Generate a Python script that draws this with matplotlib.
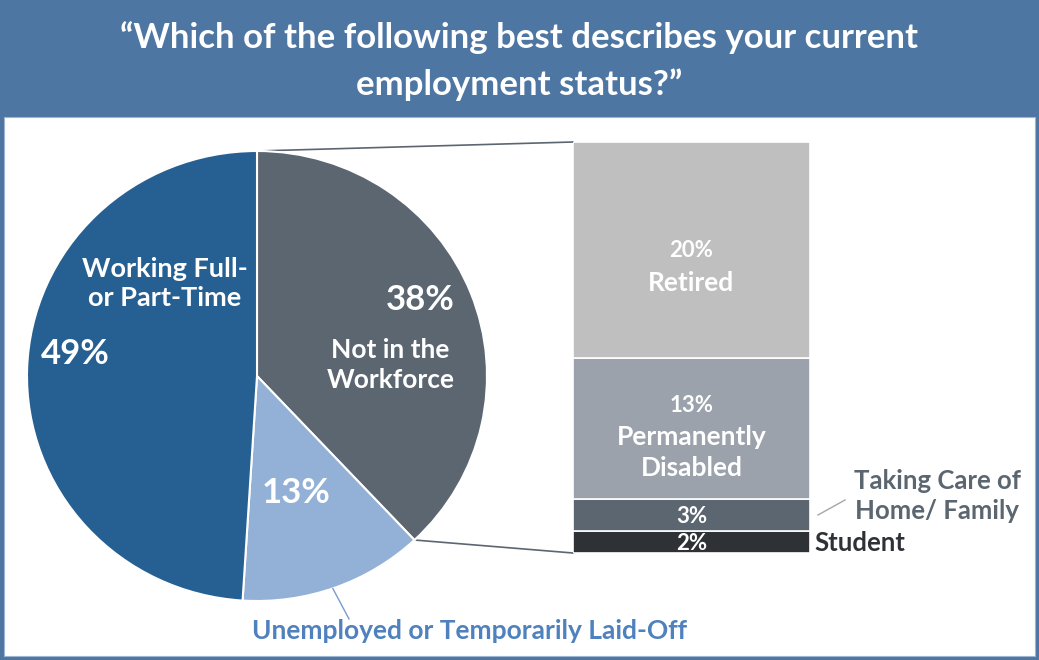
import matplotlib
matplotlib.use("Agg")
import matplotlib.pyplot as plt
from matplotlib.patches import Rectangle, ConnectionPatch
import numpy as np

# Pie: overall employment status
pie_labels = ["Not in the\nWorkforce", "Unemployed or Temporarily Laid-Off", "Working Full-\nor Part-Time"]
pie_values = [38, 13, 49]
pie_colors = ["#5C6670", "#93B1D7", "#265F91"]

# Breakdown of "Not in the Workforce" (bottom to top)
bar_labels = ["Student", "Taking Care of\nHome/ Family", "Permanently\nDisabled", "Retired"]
bar_values = [2, 3, 13, 20]
bar_colors = ["#2E3236", "#5C6670", "#9BA2AB", "#BFBFBF"]

title = "\u201cWhich of the following best describes your current\nemployment status?\u201d"

W, H = 1039, 660
fig = plt.figure(figsize=(W / 100, H / 100), dpi=100)
plt.rcParams["font.family"] = ["Lato", "DejaVu Sans"]


def fx(x):
    return x / W


def fy(y):
    return 1 - y / H


# Frame and title band
fig.patches.append(Rectangle((0, 0), 1, 1, transform=fig.transFigure,
                             facecolor="#4E76A3", edgecolor="none", zorder=0))
fig.patches.append(Rectangle((fx(4), fy(656)), fx(1031), (656 - 117) / H,
                             transform=fig.transFigure, facecolor="white",
                             edgecolor="#9FB4CF", linewidth=0.8, zorder=0))
fig.text(0.5, fy(61), title, ha="center", va="center", color="white",
         fontsize=25, fontweight="bold", linespacing=1.55)

# Pie chart
cx, cy, rx, ry = 257, 376, 230, 225
ax_pie = fig.add_axes([fx(cx - rx), fy(cy + ry), 2 * rx / W, 2 * ry / H], zorder=3)
wedges, _ = ax_pie.pie(pie_values, colors=pie_colors, startangle=90,
                       counterclock=False,
                       wedgeprops=dict(edgecolor="white", linewidth=1.5))
ax_pie.set_aspect("auto")
ax_pie.set_xlim(-1, 1)
ax_pie.set_ylim(-1, 1)
ax_pie.axis("off")

tb = dict(color="white", fontweight="bold", ha="center", va="center")
ax_pie.text(0.71, 0.34, f"{pie_values[0]}%", fontsize=25, **tb)
ax_pie.text(0.58, 0.05, pie_labels[0], fontsize=19, linespacing=1.3, **tb)
ax_pie.text(0.17, -0.52, f"{pie_values[1]}%", fontsize=25, **tb)
ax_pie.text(-0.40, 0.41, pie_labels[2], fontsize=19.5, linespacing=1.25, **tb)
ax_pie.text(-0.79, 0.10, f"{pie_values[2]}%", fontsize=25, **tb)

# Leader line and label for the unemployed slice
ax_pie.plot([0.33, 0.40], [-0.945, -1.08], color="#7A9CC8", lw=1, clip_on=False)
fig.text(fx(470), fy(631), pie_labels[1], color="#4F81BD", fontsize=19,
         fontweight="bold", ha="center", va="center")

# Stacked bar for the breakdown
total = sum(bar_values)
ax_bar = fig.add_axes([fx(573), fy(553), 237 / W, 411 / H], zorder=3)
bottoms = np.concatenate([[0], np.cumsum(bar_values)[:-1]])
ax_bar.bar([0] * len(bar_values), bar_values, bottom=bottoms, width=1,
           color=bar_colors, edgecolor="white", linewidth=1.2)
ax_bar.set_xlim(-0.5, 0.5)
ax_bar.set_ylim(0, total)
ax_bar.axis("off")

for v, b, lab in zip(bar_values, bottoms, bar_labels):
    mid = b + v / 2
    if v >= 10:
        # percentage on top, category name underneath
        n = lab.count("\n") + 1
        pct_y = mid + (n - 1) * 2.1
        ax_bar.text(0, pct_y, f"{v}%", fontsize=16, **tb)
        ax_bar.text(0, pct_y - 3.0 - (n - 1) * 1.35, lab, fontsize=19,
                    linespacing=1.35, **tb)
    else:
        ax_bar.text(0, mid - 0.12, f"{v}%", fontsize=16, **tb)

# Side labels for the thin segments
ax_bar.text(0.52, bottoms[0] + bar_values[0] / 2 - 0.1, bar_labels[0],
            color="#2E3236", fontsize=18.5, fontweight="bold", ha="left",
            va="center", clip_on=False)
fig.text(fx(937), fy(496), bar_labels[1], color="#5C6670", fontsize=18.5,
         fontweight="bold", ha="center", va="center", linespacing=1.3)
fig.add_artist(plt.Line2D([fx(818), fx(845)], [fy(515), fy(500)],
                          color="#A6A6A6", lw=1))

# Connector lines from the pie slice to the bar
a0 = np.deg2rad(90)
a1 = np.deg2rad(90 - 360 * pie_values[0] / 100)
for (px, py), (bx, by) in [((np.cos(a0), np.sin(a0)), (-0.5, total)),
                           ((np.cos(a1), np.sin(a1)), (-0.5, 0))]:
    con = ConnectionPatch(xyA=(px, py), coordsA=ax_pie.transData,
                          xyB=(bx, by), coordsB=ax_bar.transData,
                          color="#5C6670", lw=1.2, zorder=2)
    fig.add_artist(con)

fig.savefig("out.png", dpi=100)
